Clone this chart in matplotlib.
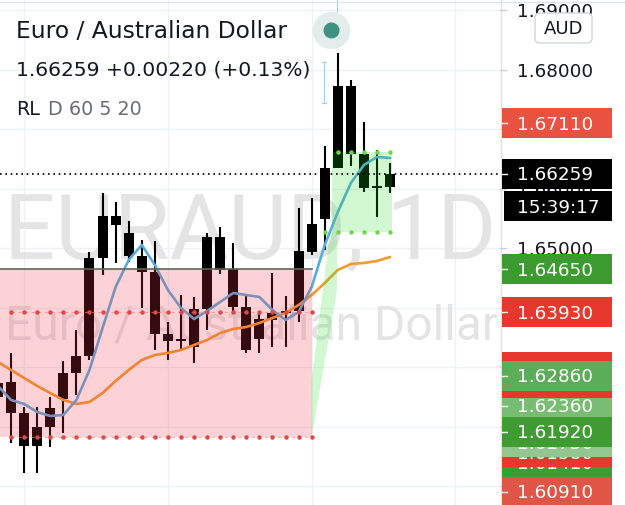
import matplotlib
matplotlib.use("Agg")
import matplotlib.pyplot as plt
from matplotlib.patches import Rectangle, FancyBboxPatch, Polygon

# ------------------------------------------------------------------ data
opens = [1.62504, 1.62756, 1.62235, 1.61681, 1.62000, 1.62471, 1.62908, 1.63193, 1.64840, 1.65546,
         1.65261, 1.64874, 1.64605, 1.63563, 1.63445, 1.63345, 1.63983, 1.65193, 1.64655, 1.64017,
         1.63479, 1.63798, 1.63916, 1.63950, 1.64941, 1.65496, 1.66353, 1.67731, 1.66588, 1.66017, 1.66039]
highs = [1.62874, 1.63244, 1.62336, 1.62336, 1.62504, 1.63109, 1.63630, 1.64941, 1.65933, 1.65782,
         1.65462, 1.65143, 1.65126, 1.63765, 1.64218, 1.64185, 1.65261, 1.65361, 1.65092, 1.64202,
         1.63899, 1.64588, 1.64202, 1.65681, 1.65849, 1.66723, 1.68286, 1.67832, 1.67126, 1.66655, 1.66437]
lows = [1.62370, 1.61731, 1.61227, 1.61227, 1.61664, 1.61899, 1.62538, 1.63126, 1.64555, 1.64756,
        1.64773, 1.64000, 1.63294, 1.63126, 1.63294, 1.63076, 1.63630, 1.64571, 1.63933, 1.63244,
        1.63244, 1.63345, 1.63345, 1.63765, 1.64891, 1.64975, 1.66353, 1.66387, 1.65950, 1.65529, 1.65933]
closes = [1.62739, 1.62235, 1.61681, 1.62000, 1.62319, 1.62908, 1.63193, 1.64840, 1.65546, 1.65395,
          1.64874, 1.64605, 1.63563, 1.63445, 1.63479, 1.63983, 1.65193, 1.64639, 1.64017, 1.63294,
          1.63815, 1.63916, 1.63950, 1.64958, 1.65412, 1.66353, 1.67731, 1.66588, 1.66017, 1.66050, 1.66259]

ma_fast = [1.62689, 1.62454, 1.62387, 1.62252, 1.62185, 1.62202, 1.62454, 1.62958, 1.63664, 1.64353,
           1.64807, 1.65059, 1.64723, 1.64303, 1.64000, 1.63815, 1.63950, 1.64101, 1.64252, 1.64218,
           1.64185, 1.63966, 1.63798, 1.63933, 1.64353, 1.65059, 1.65613, 1.66101, 1.66403, 1.66538, 1.66521]
ma_slow = [1.63092, 1.62958, 1.62824, 1.62689, 1.62571, 1.62454, 1.62387, 1.62420, 1.62571, 1.62773,
           1.62958, 1.63126, 1.63210, 1.63244, 1.63294, 1.63378, 1.63462, 1.63580, 1.63647, 1.63681,
           1.63748, 1.63832, 1.63916, 1.64050, 1.64218, 1.64420, 1.64639, 1.64739, 1.64756, 1.64790, 1.64857]

symbol_title = "Euro / Australian Dollar"
watermark_main = "EURAUD, 1D"
watermark_sub = "Euro / Australian Dollar"
last_price = 1.66259
price_change = 0.00220
price_change_pct = 0.13
indicator_name = "RL"
indicator_params = "D 60 5 20"
countdown = "15:39:17"
currency = "AUD"

axis_ticks = [1.69, 1.68, 1.67, 1.66, 1.65, 1.64, 1.63, 1.62, 1.61]

# coloured price-scale labels, in drawing order (later ones on top)
label_values = [1.63000, 1.61410, 1.61580, 1.61750, 1.62360, 1.62740,
                1.62860, 1.61920, 1.60910, 1.63930, 1.64650, 1.67110]
label_colors = ['#e8382e', '#3f9c32', '#e8382e', '#93c78d', '#79bd73', '#e8382e',
                '#5cad57', '#3f9c32', '#e05646', '#e8382e', '#3c9b2e', '#e8523f']

# position-tool drawing
stop_level = 1.64650
entry_level = 1.63930
floor_level = 1.61832
target_top = 1.66622
target_bottom = 1.65277
zone_end_idx = 24
target_start_idx = 25.55
target_end_idx = 30.15
wedge_x = [24.0, 24.0, 25.4, 25.94, 25.94, 24.0]
wedge_p = [1.61832, 1.62790, 1.65277, 1.65277, 1.64303, 1.61832]
measure_idx = 24.94
measure_range = [1.67445, 1.68134]

# ------------------------------------------------------------------ layout
W, H, DPI = 625, 505, 100
PANE_W = 500
STEP = 13.07                      # px per candle
X_LEFT = 2 / STEP                 # candle index at pane left edge
Y_LIM = (1.60689, 1.69176)
PX_PER_PRICE = H / (Y_LIM[1] - Y_LIM[0])


def hp(px):
    return px / PX_PER_PRICE


fig = plt.figure(figsize=(W / DPI, H / DPI), dpi=DPI)
fig.patch.set_facecolor("white")

ax = fig.add_axes([0, 0, PANE_W / W, 1])
ax.set_xlim(X_LEFT, X_LEFT + PANE_W / STEP)
ax.set_ylim(*Y_LIM)
ax.axis("off")

axr = fig.add_axes([PANE_W / W, 0, 1 - PANE_W / W, 1])
axr.set_xlim(0, W - PANE_W)
axr.set_ylim(*Y_LIM)
axr.axis("off")

grid_c = "#eef1f6"
for t in axis_ticks:
    ax.axhline(t, color=grid_c, lw=1, zorder=0)
for gx in [2, 13, 24, 35]:
    ax.axvline(gx, color=grid_c, lw=1, zorder=0)

# watermarks
ax.text(X_LEFT + 4 / STEP, 1.64840, watermark_main, family="Roboto", fontsize=65,
        color="#e4e4e4", va="baseline", ha="left", zorder=0.5, clip_on=True)
ax.text(X_LEFT + 5 / STEP, 1.63462, watermark_sub, family="Roboto", fontsize=34.5,
        color="#e4e4e4", va="baseline", ha="left", zorder=0.5, clip_on=True)

# candles
idx = list(range(len(opens)))
ax.vlines(idx, lows, highs, colors="black", lw=1.5, zorder=2)
min_h = hp(1.6)
bottoms = [min(o, c) for o, c in zip(opens, closes)]
heights = [max(abs(c - o), min_h) for o, c in zip(opens, closes)]
ax.bar(idx, heights, bottom=bottoms, width=10 / STEP, color="black", linewidth=0, zorder=2)

# moving averages
ax.plot(idx, ma_slow, color="#f39a2c", lw=1.9, zorder=3, solid_capstyle="round")
ax.plot(idx, ma_fast, color="#5aabde", lw=1.9, zorder=3.1, solid_capstyle="round")

# position tool: stop zone (pink) and target zone (green)
ax.add_patch(Rectangle((-1, floor_level), zone_end_idx + 1, stop_level - floor_level,
                       facecolor="#f23645", alpha=0.22, edgecolor="none", zorder=4))
ax.plot([-1, zone_end_idx], [stop_level, stop_level], color="#5d6656", lw=1.2, zorder=4.5)
ax.add_patch(Rectangle((target_start_idx, target_bottom), target_end_idx - target_start_idx,
                       target_top - target_bottom, facecolor="#22dd22", alpha=0.2,
                       edgecolor="none", zorder=4))
ax.add_patch(Polygon(list(zip(wedge_x, wedge_p)), closed=True, facecolor="#22dd22",
                     alpha=0.2, edgecolor="none", zorder=4))

red_dots_x = list(range(1, zone_end_idx + 1))
for lvl in [entry_level, floor_level]:
    ax.plot([1, zone_end_idx], [lvl, lvl], color="#f08080", lw=0.8, ls=(0, (3, 3)), alpha=0.6, zorder=5)
    ax.plot(red_dots_x, [lvl] * len(red_dots_x), ls="none", marker="o", ms=3.2,
            color="#e04848", mec="none", zorder=5)
ax.plot(list(range(26, 31)), [target_top] * 5, ls="none", marker="o", ms=3.2,
        color="#6fd64a", mec="none", zorder=5)
ax.plot(list(range(25, 31)), [target_bottom] * 6, ls="none", marker="o", ms=3.2,
        color="#6fd64a", mec="none", zorder=5)

# measure tick
ax.plot([measure_idx, measure_idx], measure_range, color="#a9cbe4", lw=0.8, zorder=5)
for v in measure_range:
    ax.plot([measure_idx - 0.12, measure_idx + 0.12], [v, v], color="#a9cbe4", lw=0.8, zorder=5)
ax.plot([25.94, 25.94], [Y_LIM[1], Y_LIM[1] - hp(12)], color="#a9cbe4", lw=0.8, zorder=5)

# last price line
ax.axhline(last_price, color="black", lw=1.2, ls=(0, (1, 2.2)), zorder=6)

# status dot
ax.plot([25.48], [1.68672], marker="o", ms=27, color="#e3eeec", mec="none", zorder=7, clip_on=False)
ax.plot([25.48], [1.68672], marker="o", ms=11.5, color="#3e9283", mec="none", zorder=7.1, clip_on=False)

# ------------------------------------------------------------------ price scale
axr.axvline(0.5, color="#e0e3eb", lw=1, zorder=0)
CAP = 13.3
FS = 13.2
BOX_H = 30
for t in axis_ticks:
    axr.text(17, t - hp(CAP / 2), f"{t:.5f}", fontsize=FS, color="#131722", va="baseline", zorder=1)
    axr.plot([0, 6], [t, t], color="#c9ccd4", lw=1, zorder=1)

z = 2
for v, c in zip(label_values, label_colors):
    axr.add_patch(Rectangle((2, v - hp(BOX_H / 2)), 110, hp(BOX_H), facecolor=c, edgecolor="none", zorder=z))
    axr.text(17, v - hp(CAP / 2), f"{v:.5f}", fontsize=FS, color="white", va="baseline", zorder=z + 0.1)
    axr.plot([2, 7], [v, v], color="white", lw=1, zorder=z + 0.1)
    z += 1

axr.add_patch(Rectangle((2, last_price - hp(BOX_H / 2)), 110, hp(BOX_H), facecolor="black", zorder=z))
axr.text(17, last_price - hp(CAP / 2), f"{last_price:.5f}", fontsize=FS, color="white", va="baseline", zorder=z + 0.1)
axr.plot([2, 7], [last_price, last_price], color="white", lw=1, zorder=z + 0.1)
t_c = last_price - hp(32.5)
axr.add_patch(Rectangle((4, t_c - hp(BOX_H / 2)), 108, hp(BOX_H), facecolor="black", zorder=z + 1))
axr.text(58, t_c - hp(CAP / 2), countdown, fontsize=FS, color="white", va="baseline", ha="center", zorder=z + 1.1)

# ------------------------------------------------------------------ overlay (pixel coords)
ov = fig.add_axes([0, 0, 1, 1], zorder=10)
ov.set_xlim(0, W)
ov.set_ylim(H, 0)
ov.axis("off")
ov.patch.set_alpha(0)

ov.plot([0, W], [1.5, 1.5], color="#e0e3eb", lw=1)
ov.add_patch(FancyBboxPatch((535, 13), 57, 30, boxstyle="round,pad=0,rounding_size=5",
                            facecolor="white", edgecolor="#d1d4dc", lw=1))
ov.text(563.5, 34.5, currency, fontsize=13, color="#131722", ha="center", va="baseline")

ov.text(16, 38, symbol_title, fontsize=16.8, color="#131722", va="baseline")
ov.text(16, 75, f"{last_price:.5f} +{price_change:.5f} (+{price_change_pct:.2f}%)",
        fontsize=14.6, color="#131722", va="baseline")
ov.text(16, 115, indicator_name, fontsize=13.8, color="#131722", va="baseline")
ov.text(48, 115, indicator_params, fontsize=13.8, color="#6a6d78", va="baseline")

fig.savefig("out.png", dpi=DPI, facecolor="white")
